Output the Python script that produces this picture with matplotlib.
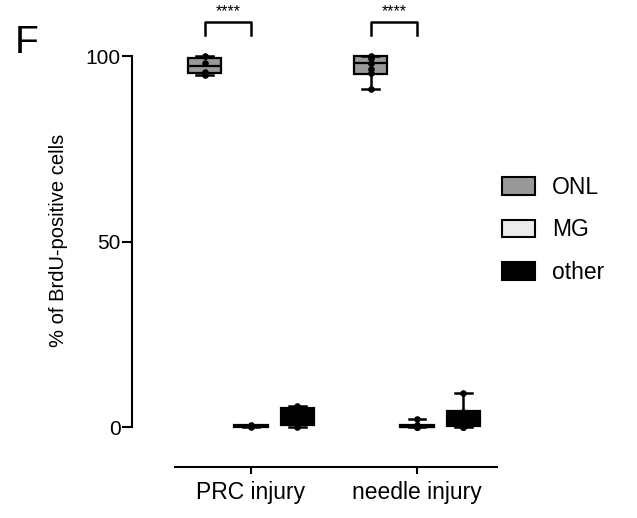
"""BrdU-positive cell location per injury type (panel F): box plots with points."""

import matplotlib

matplotlib.use("Agg")
import matplotlib.pyplot as plt
from matplotlib.patches import Patch

plt.rcParams["font.family"] = ["Liberation Sans", "DejaVu Sans"]

groups = ["PRC injury", "needle injury"]
layers = ["ONL", "MG", "other"]
layer_colors = ["#999999", "#ececec", "#000000"]

# box stats per (group, layer): whisker low, q1, median, q3, whisker high
whislo = [[94.8, 0.0, 0.0], [91.0, 0.0, 0.0]]
q1 = [[95.5, 0.0, 0.6], [95.1, 0.0, 0.2]]
med = [[97.2, 0.3, 2.5], [98.0, 0.1, 1.5]]
q3 = [[99.6, 0.6, 5.0], [99.9, 0.5, 4.3]]
whishi = [[100.0, 0.6, 5.6], [100.0, 2.1, 9.2]]

# individual animals
points = [
    [[100.0, 98.0, 95.6, 95.2, 94.9], [0.0, 0.2, 0.3, 0.5], [0.0, 0.8, 2.0, 3.0, 4.5, 5.6]],
    [[100.0, 99.8, 99.5, 98.2, 98.0, 96.5, 95.5, 91.0], [0.0, 0.0, 0.0, 0.3, 0.5, 2.1],
     [0.0, 0.0, 0.0, 1.0, 2.5, 4.0, 9.2]],
]
stars = ["****", "****"]

offsets = [-0.28, 0.0, 0.28]
box_w = 0.2

fig = plt.figure(figsize=(6.37, 5.18), dpi=100)
ax = fig.add_axes([132 / 637, 51 / 518, 368 / 637, 467 / 518])

for gi in range(len(groups)):
    for li in range(len(layers)):
        pos = gi + offsets[li]
        st = dict(whislo=whislo[gi][li], q1=q1[gi][li], med=med[gi][li],
                  q3=q3[gi][li], whishi=whishi[gi][li], fliers=[])
        ax.bxp(
            [st], positions=[pos], widths=box_w, patch_artist=True, showfliers=False,
            boxprops=dict(facecolor=layer_colors[li], edgecolor="black", linewidth=1.6),
            medianprops=dict(color="black", linewidth=1.6),
            whiskerprops=dict(color="black", linewidth=1.8),
            capprops=dict(color="black", linewidth=1.8),
            manage_ticks=False, zorder=2,
        )
        pts = points[gi][li]
        ax.scatter([pos] * len(pts), pts, s=14, color="black", zorder=3)

    # significance bracket ONL vs MG
    x0, x1 = gi + offsets[0], gi + offsets[1]
    ax.plot([x0, x0, x1, x1], [105.6, 109.1, 109.1, 105.6], color="black", lw=1.8,
            clip_on=False)
    ax.text((x0 + x1) / 2, 110.0, stars[gi], ha="center", va="bottom", fontsize=11.5)

ax.set_xlim(-0.717, 1.5)
ax.set_ylim(-10.78, 115.1)
ax.set_xticks(range(len(groups)))
ax.set_xticklabels(groups)
ax.set_yticks([0, 50, 100])

for side in ["top", "right"]:
    ax.spines[side].set_visible(False)
ax.spines["left"].set_bounds(0, 100)
ax.spines["bottom"].set_bounds(-0.458, 1.482)
ax.spines["left"].set_linewidth(1.5)
ax.spines["bottom"].set_linewidth(1.5)
ax.tick_params(axis="y", length=7, width=1.5, pad=1, labelsize=15)
ax.tick_params(axis="x", length=5, width=1.5, pad=5, labelsize=16.5)

fig.text(59 / 637, 1 - 240 / 518, "% of BrdU-positive cells", rotation=90,
         ha="center", va="center", fontsize=14.5)
fig.text(15 / 637, 1 - 53 / 518, "F", fontsize=28, ha="left", va="baseline")

handles = [Patch(facecolor=c, edgecolor="black", linewidth=1.5) for c in layer_colors]
fig.legend(handles, layers, loc="upper left", bbox_to_anchor=(502 / 637, 1 - 176 / 518),
           frameon=False, fontsize=16.5, handlelength=1.44, handleheight=0.79,
           handletextpad=0.75, labelspacing=0.85, borderpad=0, borderaxespad=0)

fig.savefig("out.png", dpi=100)
